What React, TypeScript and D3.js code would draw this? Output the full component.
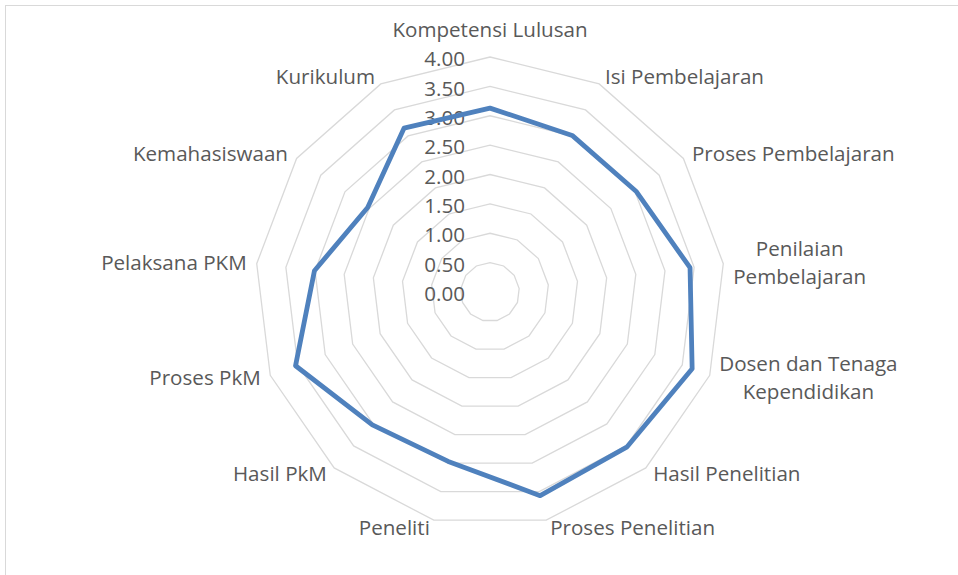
import * as d3 from "d3";
import { useEffect, useRef } from "react";

const categories: string[][] = [
  ["Kompetensi Lulusan"],
  ["Isi Pembelajaran"],
  ["Proses Pembelajaran"],
  ["Penilaian", "Pembelajaran"],
  ["Dosen dan Tenaga", "Kependidikan"],
  ["Hasil Penelitian"],
  ["Proses Penelitian"],
  ["Peneliti"],
  ["Hasil PkM"],
  ["Proses PkM"],
  ["Pelaksana PKM"],
  ["Kemahasiswaan"],
  ["Kurikulum"],
];
const scores = [3.13, 3.01, 3.02, 3.43, 3.68, 3.52, 3.57, 2.97, 3.02, 3.54, 3.01, 2.53, 3.15];
const ticks = [0, 0.5, 1, 1.5, 2, 2.5, 3, 3.5, 4];

const W = 958;
const H = 575;

const App = () => {
  const ref = useRef<SVGSVGElement>(null);

  useEffect(() => {
    const svg = d3.select(ref.current);
    svg.selectAll("*").remove();

    const cx = 490;
    const cy = 292;
    const n = categories.length;
    const font = "'Open Sans', sans-serif";
    const fontSize = 20.6;

    const r = d3.scaleLinear().domain([0, 4]).range([0, 235]);
    const angle = d3
      .scaleLinear()
      .domain([0, n])
      .range([0, 2 * Math.PI]);

    const pt = (i: number, v: number): [number, number] => [
      cx + r(v) * Math.sin(angle(i)),
      cy - r(v) * Math.cos(angle(i)),
    ];

    // chart area border (runs off the right and bottom edges)
    svg
      .append("rect")
      .attr("x", 5.5)
      .attr("y", 5.5)
      .attr("width", 1200)
      .attr("height", 800)
      .attr("fill", "white")
      .attr("stroke", "#d9d9d9")
      .attr("stroke-width", 1);

    // grid rings
    svg
      .append("g")
      .selectAll("path")
      .data(ticks.filter((t) => t > 0))
      .enter()
      .append("path")
      .attr("d", (t) => d3.line()(d3.range(n).map((i) => pt(i, t))) + "Z")
      .attr("fill", "none")
      .attr("stroke", "#d9d9d9")
      .attr("stroke-width", 1.3);

    // tick labels
    svg
      .append("g")
      .selectAll("text")
      .data(ticks)
      .enter()
      .append("text")
      .attr("x", cx - 25)
      .attr("y", (t) => cy - r(t) + 2)
      .attr("dy", "0.35em")
      .attr("text-anchor", "end")
      .attr("font-family", font)
      .attr("font-size", fontSize)
      .attr("fill", "#595959")
      .text((t) => d3.format(".2f")(t));

    // series line
    const pts = scores.map((v, i) => pt(i, v));
    svg
      .append("path")
      .attr("d", d3.line()(pts) + "Z")
      .attr("fill", "none")
      .attr("stroke", "#4f81bd")
      .attr("stroke-width", 4.8)
      .attr("stroke-linejoin", "round");

    // category labels, placed just outside the outer ring
    const lineH = 28;
    categories.forEach((lines, i) => {
      const a = angle(i);
      const s = Math.sin(a);
      const c = Math.cos(a);
      const [vx, vy] = pt(i, 4);
      const g = svg.append("g");
      const texts = lines.map((l) =>
        g
          .append("text")
          .attr("font-family", font)
          .attr("font-size", fontSize)
          .attr("fill", "#595959")
          .attr("text-anchor", "middle")
          .attr("dy", "0.35em")
          .text(l)
      );
      const widths = texts.map((t) => (t.node() as SVGTextElement).getComputedTextLength());
      const bw = Math.max(...widths);
      const bh = lineH * lines.length;
      const gap = 2 + 8 * Math.abs(s);
      let mx: number;
      let my: number;
      if (Math.abs(s) < 0.05) {
        mx = vx;
        my = c > 0 ? vy - 27 : vy + 27;
      } else if (s > 0) {
        mx = vx + gap + bw / 2;
        my = vy - 8 * c;
      } else {
        mx = vx - gap - bw / 2;
        my = vy - 8 * c;
      }
      texts.forEach((t, k) => {
        t.attr("x", mx).attr("y", my - bh / 2 + lineH * (k + 0.5));
      });
    });
  }, []);

  return (
    <svg
      ref={ref}
      width={W}
      height={H}
      style={{ position: "absolute", left: 0, top: 0, background: "white" }}
    />
  );
};

export default App;
